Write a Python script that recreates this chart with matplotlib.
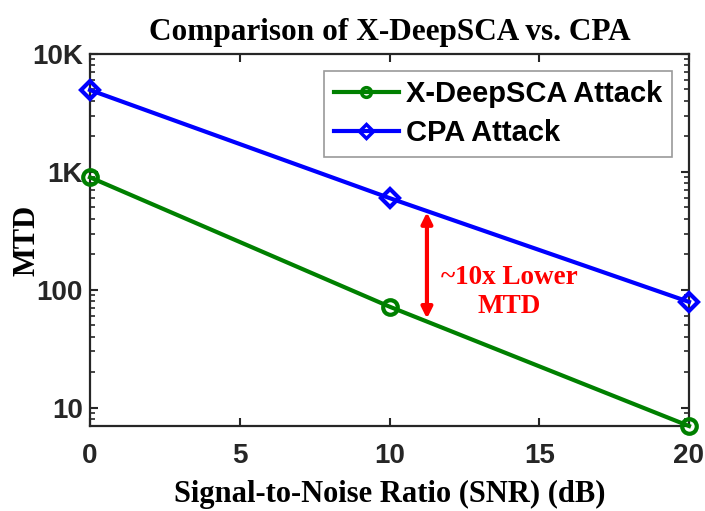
import matplotlib
matplotlib.use("Agg")
import matplotlib.pyplot as plt
from matplotlib.ticker import LogLocator, NullFormatter

snr = [0, 10, 20]
xdeepsca = [900, 72, 7]
cpa = [4950, 600, 79]
xticks = [0, 5, 10, 15, 20]
yticks = [10, 100, 1000, 10000]
yticklabels = ["10", "100", "1K", "10K"]
arrow_x = 11.25
arrow_y = [57, 455]
note_xy = (14.0, 96)

fig = plt.figure(figsize=(7.05, 5.11), dpi=100)
ax = fig.add_axes([90 / 705, 85 / 511, 599 / 705, 372 / 511])

ax.plot(snr, xdeepsca, color="#008000", lw=3, marker="o", ms=10.5,
        mfc="none", mew=3, label="X-DeepSCA Attack", clip_on=False, zorder=3)
ax.plot(snr, cpa, color="#0000FF", lw=3, marker="D", ms=9.5,
        mfc="none", mew=3, label="CPA Attack", clip_on=False, zorder=3)

ax.set_yscale("log")
ax.set_xlim(0, 20)
ax.set_ylim(7, 10000)
ax.set_xticks(xticks)
ax.set_yticks(yticks)
ax.set_yticklabels(yticklabels)
ax.yaxis.set_minor_locator(LogLocator(base=10, subs=range(2, 10)))
ax.yaxis.set_minor_formatter(NullFormatter())

for lab in ax.get_xticklabels() + ax.get_yticklabels():
    lab.set_fontfamily("Liberation Sans")
    lab.set_fontweight("bold")
    lab.set_fontsize(20)
    lab.set_color("#262626")

ax.tick_params(which="both", direction="in", top=True, right=True, color="#262626")
ax.tick_params(axis="x", which="major", length=6, width=1.5, pad=12)
ax.tick_params(axis="y", which="major", length=6, width=1.5, pad=5)
ax.tick_params(which="minor", length=3.5, width=1.2)
for s in ax.spines.values():
    s.set_linewidth(1.6)
    s.set_color("#262626")

ax.set_title("Comparison of X-DeepSCA vs. CPA", family="Liberation Serif",
             weight="bold", fontsize=22.5, pad=10)
ax.set_xlabel("Signal-to-Noise Ratio (SNR) (dB)", family="Liberation Serif",
              weight="bold", fontsize=22, labelpad=8)
ax.set_ylabel("MTD", family="Liberation Serif", weight="bold", fontsize=22)
ax.yaxis.set_label_coords(-0.081, 0.5)

ax.annotate("", xy=(arrow_x, arrow_y[1]), xytext=(arrow_x, arrow_y[0]),
            arrowprops=dict(arrowstyle="<|-|>", color="red", lw=3,
                            mutation_scale=16, shrinkA=0, shrinkB=0))
ax.text(note_xy[0], note_xy[1], "~10x Lower\nMTD", color="red", ha="center",
        va="center", family="Liberation Serif", weight="bold", fontsize=19.5,
        linespacing=1.25)

leg = ax.legend(loc="upper right",
                bbox_to_anchor=((672 - 90) / 599, (426 - 71) / 372),
                prop=dict(family="Liberation Sans", weight="bold", size=21),
                frameon=True, fancybox=False, edgecolor="#808080", borderaxespad=0,
                handlelength=2.25, handletextpad=0.25, labelspacing=0.38,
                borderpad=0.32)
leg.get_frame().set_linewidth(1.2)
for h in leg.legend_handles:
    h.set_markersize(7)
    h.set_markeredgewidth(2.5)

fig.savefig("out.png", dpi=100)
